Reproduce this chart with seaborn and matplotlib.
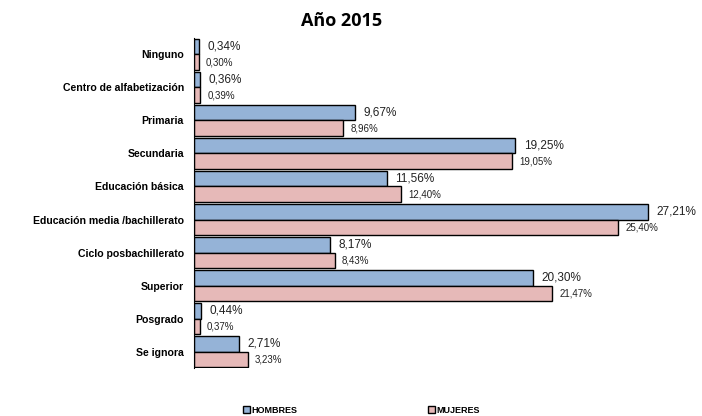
import seaborn as sns
import matplotlib.pyplot as plt
import pandas as pd

categories = ['Ninguno', 'Centro de alfabetización', 'Primaria', 'Secundaria',
              'Educación básica', 'Educación media /bachillerato',
              'Ciclo posbachillerato', 'Superior', 'Posgrado', 'Se ignora']
hombres = [0.34, 0.36, 9.67, 19.25, 11.56, 27.21, 8.17, 20.30, 0.44, 2.71]
mujeres = [0.30, 0.39, 8.96, 19.05, 12.40, 25.40, 8.43, 21.47, 0.37, 3.23]
series = ['HOMBRES', 'MUJERES']

df = pd.DataFrame({
    'nivel': categories * 2,
    'valor': hombres + mujeres,
    'sexo': [series[0]] * len(categories) + [series[1]] * len(categories),
})

sns.set_style('white')
plt.rcParams['font.family'] = ['Liberation Sans', 'DejaVu Sans']
plt.rcParams['text.color'] = 'black'
plt.rcParams['ytick.color'] = 'black'

fig = plt.figure(figsize=(7.02, 4.16), dpi=100)
ax = fig.add_axes([0.276, 0.115, 0.714, 0.794])

sns.barplot(data=df, x='valor', y='nivel', hue='sexo', orient='h',
            palette=['#95B3D7', '#E6B9B8'], saturation=1, width=0.95, gap=0,
            edgecolor='black', linewidth=1, ax=ax)

fmt = lambda v: f'{v:.2f}'.replace('.', ',') + '%'
ax.bar_label(ax.containers[0], labels=[fmt(v) for v in hombres],
             padding=6, fontsize=8.5, color='#222222')
ax.bar_label(ax.containers[1], labels=[fmt(v) for v in mujeres],
             padding=5, fontsize=7, color='#222222')

ax.set_xlim(0, 30)
ax.set_xlabel('')
ax.set_ylabel('')
ax.set_xticks([])
for s in ['top', 'right', 'bottom']:
    ax.spines[s].set_visible(False)
ax.spines['left'].set_color('black')
ax.tick_params(axis='y', length=0, pad=7)
for lbl in ax.get_yticklabels():
    lbl.set_fontweight('bold')
    lbl.set_fontsize(7.6)

fig.suptitle('Año 2015', x=0.487, y=0.97, fontsize=13, fontweight='bold',
             color='black', family=['Open Sans', 'DejaVu Sans'])

sns.move_legend(ax, 'lower left', bbox_to_anchor=(0.335, -0.016),
                bbox_transform=fig.transFigure, ncol=2, frameon=False,
                title=None, handlelength=0.7, handleheight=0.7,
                handletextpad=0.2, columnspacing=14.5,
                prop={'size': 6.5, 'weight': 'bold'})

fig.savefig('out.png', dpi=100)
